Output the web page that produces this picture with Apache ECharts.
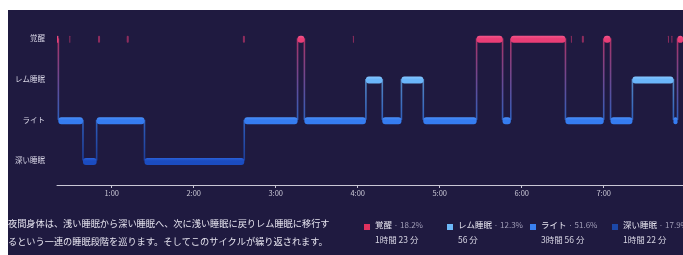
<!DOCTYPE html>
<html>
<head>
<meta charset="utf-8">
<script src="https://cdn.jsdelivr.net/npm/echarts@6/dist/echarts.min.js"></script>
<style>
  html, body { margin: 0; padding: 0; background: #fff; }
  #chart { width: 683px; height: 255px; }
</style>
</head>
<body>
<div id="chart"></div>
<script>
// stage index: 0 deep, 1 light, 2 REM, 3 awake
const yLabels = ['深い睡眠', 'ライト', 'レム睡眠', '覚醒'];

// minutes after midnight
const segStart = [20, 21, 39, 49, 84, 157, 196, 201, 246, 258, 272, 288, 327, 346, 352, 392, 420, 425, 441, 471, 474];
const segStage = [3, 1, 0, 1, 0, 1, 3, 1, 2, 1, 2, 1, 3, 1, 3, 1, 3, 1, 2, 1, 3];
const endTime = 478;

// short awakenings shown as small marks
const blipStart = [29, 50, 71, 156, 236.5, 396, 404, 467, 469.5];
const blipLen = [0.7, 1.5, 1.5, 1.5, 0.7, 0.7, 1.5, 0.7, 0.7];

const hourTicks = [60, 120, 180, 240, 300, 360, 420];

// legend (awake, REM, light, deep)
const legendNames = ['覚醒', 'レム睡眠', 'ライト', '深い睡眠'];
const legendPct = ['18.2%', '12.3%', '51.6%', '17.9%'];
const legendDur = ['1時間 23 分', '56 分', '3時間 56 分', '1時間 22 分'];

const description = [
  '夜間身体は、浅い睡眠から深い睡眠へ、次に浅い睡眠に戻りレム睡眠に移行す',
  'るという一連の睡眠段階を巡ります。そしてこのサイクルが繰り返されます。'
];

const stageColor = ['#1b4cc0', '#357cf0', '#6bb6fa', '#e93d76'];
const stageTop = ['#2a60d8', '#4a8ff8', '#86c6ff', '#f2568a'];
const legendColor = ['#e0325f', '#6db8f8', '#3a80f0', '#1c48a8'];
const font = '"Noto Sans CJK JP", "Noto Sans", sans-serif';

const segData = segStart.map((s, i) => [s, i < segStart.length - 1 ? segStart[i + 1] : endTime, segStage[i]]);
const connData = [];
for (let i = 1; i < segStart.length; i++) {
  connData.push([segStart[i], segStage[i - 1], segStage[i]]);
}
const blipData = blipStart.map((s, i) => [s, s + blipLen[i], 3]);

const chart = echarts.init(document.getElementById('chart'));

const graphic = [
  { type: 'rect', left: 8, top: 10, z: -10, silent: true,
    shape: { width: 675, height: 245 }, style: { fill: '#1f1a40' } }
];
description.forEach((line, i) => {
  graphic.push({ type: 'text', left: 8, top: 219 + i * 18,
    style: { text: line, fill: '#e6e4ef', font: '9.2px ' + font } });
});
const legX = [364, 447, 530, 612];
legendNames.forEach((n, i) => {
  graphic.push({ type: 'rect', left: legX[i], top: 224,
    shape: { width: 6, height: 6 }, style: { fill: legendColor[i] } });
  graphic.push({ type: 'text', left: legX[i] + 11, top: 221,
    style: {
      text: '{n|' + n + '}{p| · ' + legendPct[i] + '}',
      rich: {
        n: { fill: '#e6e4ef', fontSize: 8.5, fontFamily: font },
        p: { fill: '#a29fb8', fontSize: 8, fontFamily: font }
      }
    } });
  graphic.push({ type: 'text', left: legX[i] + 11, top: 236,
    style: { text: legendDur[i], fill: '#d6d4e2', font: '8.5px ' + font } });
});

chart.setOption({
  backgroundColor: '#fff',
  animation: false,
  grid: { left: 57, right: 0, top: 18, bottom: 70 },
  xAxis: {
    type: 'value', min: 20, max: endTime,
    axisLine: { onZero: false, lineStyle: { color: '#c9c7d6', width: 1 } },
    axisTick: { customValues: hourTicks, length: 3, lineStyle: { color: '#c9c7d6' } },
    axisLabel: {
      customValues: hourTicks, margin: 4, fontSize: 7.5, color: '#c8c6d4', fontFamily: font,
      formatter: v => Math.round(v / 60) + ':00'
    },
    splitLine: { show: false }
  },
  yAxis: {
    type: 'value', min: -0.6, max: 3.5,
    axisLine: { show: false }, axisTick: { show: false }, splitLine: { show: false },
    axisLabel: {
      customValues: [0, 1, 2, 3], margin: 12, fontSize: 7.5, color: '#d8d6e6', fontFamily: font,
      formatter: v => yLabels[Math.round(v)]
    }
  },
  graphic: graphic,
  series: [
    {
      type: 'custom', data: connData, z: 2,
      renderItem: (params, api) => {
        const t = api.value(0), a = api.value(1), b = api.value(2);
        const pa = api.coord([t, a]), pb = api.coord([t, b]);
        const top = Math.min(pa[1], pb[1]), bot = Math.max(pa[1], pb[1]);
        return {
          type: 'rect',
          shape: { x: pa[0] - 0.8, y: top, width: 1.6, height: bot - top },
          style: {
            fill: new echarts.graphic.LinearGradient(0, 0, 0, 1, [
              { offset: 0, color: stageColor[Math.max(a, b)] },
              { offset: 1, color: stageColor[Math.min(a, b)] }
            ]),
            opacity: 0.7
          }
        };
      }
    },
    {
      type: 'custom', data: blipData, z: 3,
      renderItem: (params, api) => {
        const p0 = api.coord([api.value(0), api.value(2)]);
        const p1 = api.coord([api.value(1), api.value(2)]);
        return {
          type: 'rect',
          shape: { x: p0[0], y: p0[1] - 2.5, width: Math.max(1, p1[0] - p0[0]), height: 7, r: 1 },
          style: { fill: stageColor[3], opacity: 0.55 }
        };
      }
    },
    {
      type: 'custom', data: segData, z: 4,
      renderItem: (params, api) => {
        const st = api.value(2);
        const p0 = api.coord([api.value(0), st]);
        const p1 = api.coord([api.value(1), st]);
        return {
          type: 'rect',
          shape: { x: p0[0], y: p0[1] - 2.5, width: p1[0] - p0[0], height: 7, r: 3 },
          style: {
            fill: new echarts.graphic.LinearGradient(0, 0, 0, 1, [
              { offset: 0, color: stageTop[st] },
              { offset: 0.4, color: stageColor[st] },
              { offset: 1, color: stageColor[st] }
            ])
          }
        };
      }
    }
  ]
});
</script>
</body>
</html>
